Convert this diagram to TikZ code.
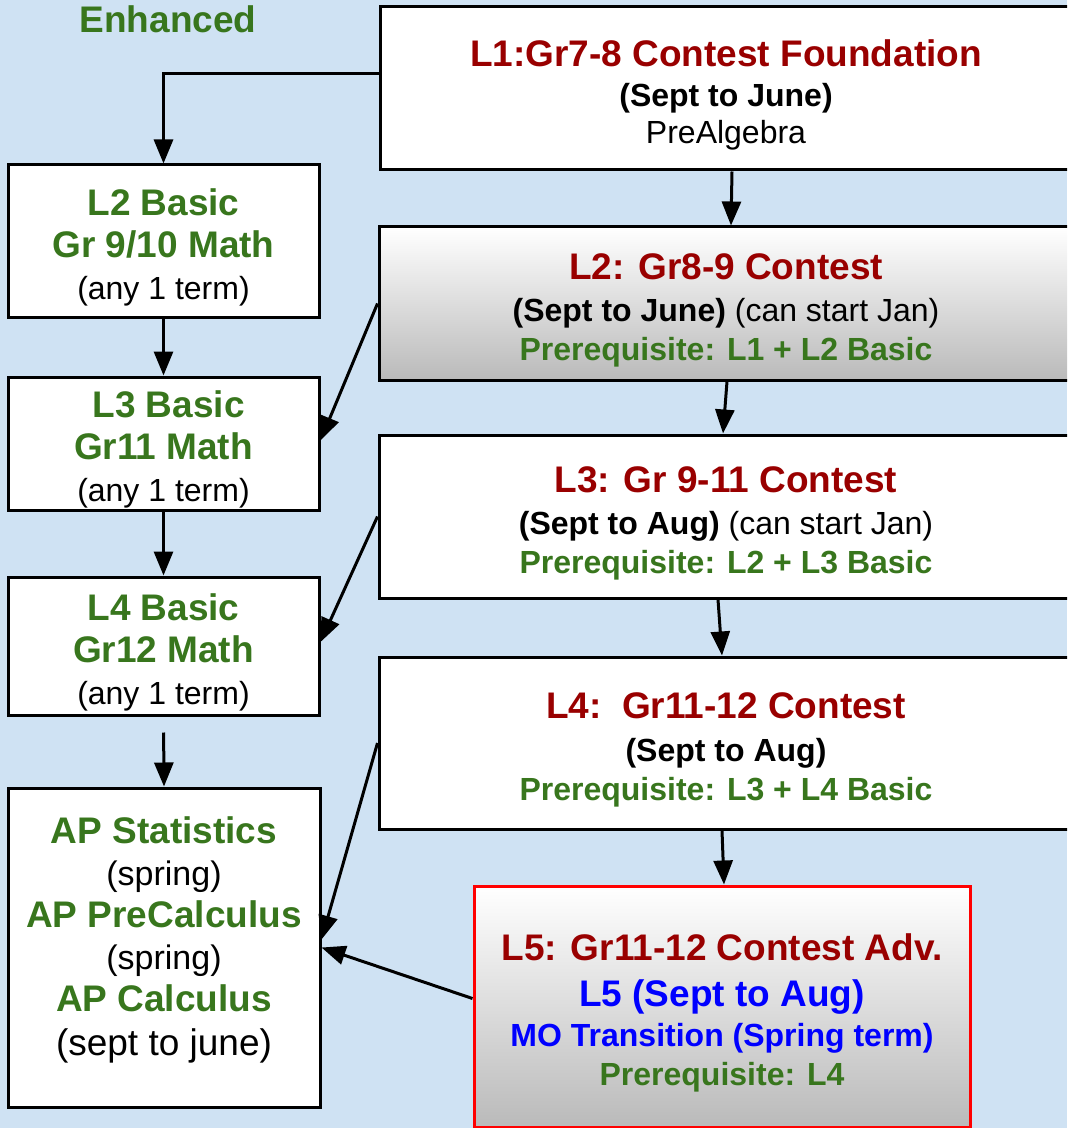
\documentclass[tikz,border=0pt]{standalone}
\usepackage{fontspec}
\setmainfont{Liberation Sans}
\usepackage{tikz}
\usetikzlibrary{arrows.meta, calc}

\definecolor{bgblue}{HTML}{CFE2F3}
\definecolor{titlered}{HTML}{990000}
\definecolor{basicgreen}{HTML}{38761D}
\definecolor{moblue}{HTML}{0000FF}
\definecolor{shadegray}{HTML}{BABABA}

% heading lines in the boxes
\newcommand{\lvlhead}[2][titlered]{{\fontsize{18.5}{21}\selectfont\bfseries\color{#1}#2}}
\newcommand{\lvlreq}[1]{{\bfseries\color{basicgreen}#1}}
% pushes the text of a box a little down
\newcommand{\toppad}{\rule{0pt}{19.5pt}}

\tikzset{
  box/.style={draw, line width=1.5pt, fill=white, align=center, inner sep=0pt,
    font=\fontsize{16}{21}\selectfont},
  shadedbox/.style={box, top color=white, bottom color=shadegray},
  conn/.style={line width=1.5pt, -{Triangle[length=12pt,width=9.5pt]}}
}

\begin{document}
\begin{tikzpicture}[x=0.5pt, y=-0.5pt]
\useasboundingbox (0,0) rectangle (1067,1128);
\clip (0,0) rectangle (1067,1128);
\fill[bgblue] (0,0) rectangle (1067,1128);

\node (enh) at (168,19) {\lvlhead[basicgreen]{Enhanced}};

% contest track (right)
\node[box, minimum width=346pt, minimum height=81.5pt] (l1) at (726,88.5)
  {\toppad\lvlhead{L1:Gr7-8 Contest Foundation}\\[-1pt] \textbf{(Sept to June)}\\[-2.5pt] PreAlgebra};
\node[shadedbox, minimum width=347pt, minimum height=76.5pt] (l2c) at (726,303.5)
  {\toppad\lvlhead{L2: Gr8-9 Contest}\\[0pt] \textbf{(Sept to June)} (can start Jan)\\[-1.5pt]
   \lvlreq{Prerequisite: L1 + L2 Basic}};
\node[box, minimum width=347pt, minimum height=81.5pt] (l3c) at (726,516.5)
  {\toppad\lvlhead{L3: Gr 9-11 Contest}\\[0pt] \textbf{(Sept to Aug)} (can start Jan)\\[-1.5pt]
   \lvlreq{Prerequisite: L2 + L3 Basic}};
\node[box, minimum width=347pt, minimum height=86pt] (l4c) at (726,743)
  {\toppad\lvlhead{L4:\ \ Gr11-12 Contest}\\[0.5pt] \textbf{(Sept to Aug)}\\[-1.5pt]
   \lvlreq{Prerequisite: L3 + L4 Basic}};
\node[shadedbox, draw=red, minimum width=248pt, minimum height=120.5pt] (l5) at (722,1006.5)
  {\toppad\lvlhead{L5: Gr11-12 Contest Adv.}\\[2pt] \lvlhead[moblue]{L5 (Sept to Aug)}\\[-1pt]
   {\bfseries\color{moblue}MO Transition (Spring term)}\\[-1.5pt] \lvlreq{Prerequisite: L4}};

% basic track (left)
\node[box, minimum width=155.5pt, minimum height=76.5pt] (l2b) at (163.5,241.5)
  {\toppad\lvlhead[basicgreen]{L2 Basic}\\ \lvlhead[basicgreen]{Gr 9/10 Math}\\ (any 1 term)};
\node[box, minimum width=155.5pt, minimum height=66.5pt] (l3b) at (163.5,443.5)
  {\toppad\lvlhead[basicgreen]{~L3 Basic}\\ \lvlhead[basicgreen]{Gr11 Math}\\ (any 1 term)};
\node[box, minimum width=155.5pt, minimum height=69pt] (l4b) at (163.5,646)
  {\toppad\lvlhead[basicgreen]{L4 Basic}\\ \lvlhead[basicgreen]{Gr12 Math}\\ (any 1 term)};
\node[box, minimum width=156pt, minimum height=159.5pt] (ap) at (164,947.5)
  {\lvlhead[basicgreen]{AP Statistics}\\ {\fontsize{17}{21}\selectfont(spring)}\\
   \lvlhead[basicgreen]{AP PreCalculus}\\ {\fontsize{17}{21}\selectfont(spring)}\\
   \lvlhead[basicgreen]{AP Calculus}\\[1pt] {\fontsize{18.5}{21}\selectfont(sept to june)\rule[-11pt]{0pt}{11pt}}};

% arrows
\draw[conn] ($(l1.west)+(0,-15)$) -| (l2b.north);
\draw[conn] ($(l1.south)+(6,0)$) -- ($(l2c.north)+(5,0)$);
\draw[conn] ($(l2c.south)+(1,0)$) -- ($(l3c.north)+(-3,0)$);
\draw[conn] ($(l3c.south)+(-8,0)$) -- ($(l4c.north)+(-4,0)$);
\draw[conn] ($(l4c.south)+(-4,0)$) -- ($(l5.north)+(2,0)$);
\draw[conn] (l2b.south) -- (l3b.north);
\draw[conn] (l3b.south) -- (l4b.north);
\draw[conn, shorten <=8pt] (l4b.south) -- (ap.north);
\draw[conn] (l2c.west) -- ($(l3b.east)+(0,-3)$);
\draw[conn] (l3c.west) -- ($(l4b.east)+(0,-4)$);
\draw[conn] (l4c.west) -- ($(ap.east)+(0,-8)$);
\draw[conn] ($(l5.west)+(0,-8)$) -- (ap.east);
\end{tikzpicture}
\end{document}
